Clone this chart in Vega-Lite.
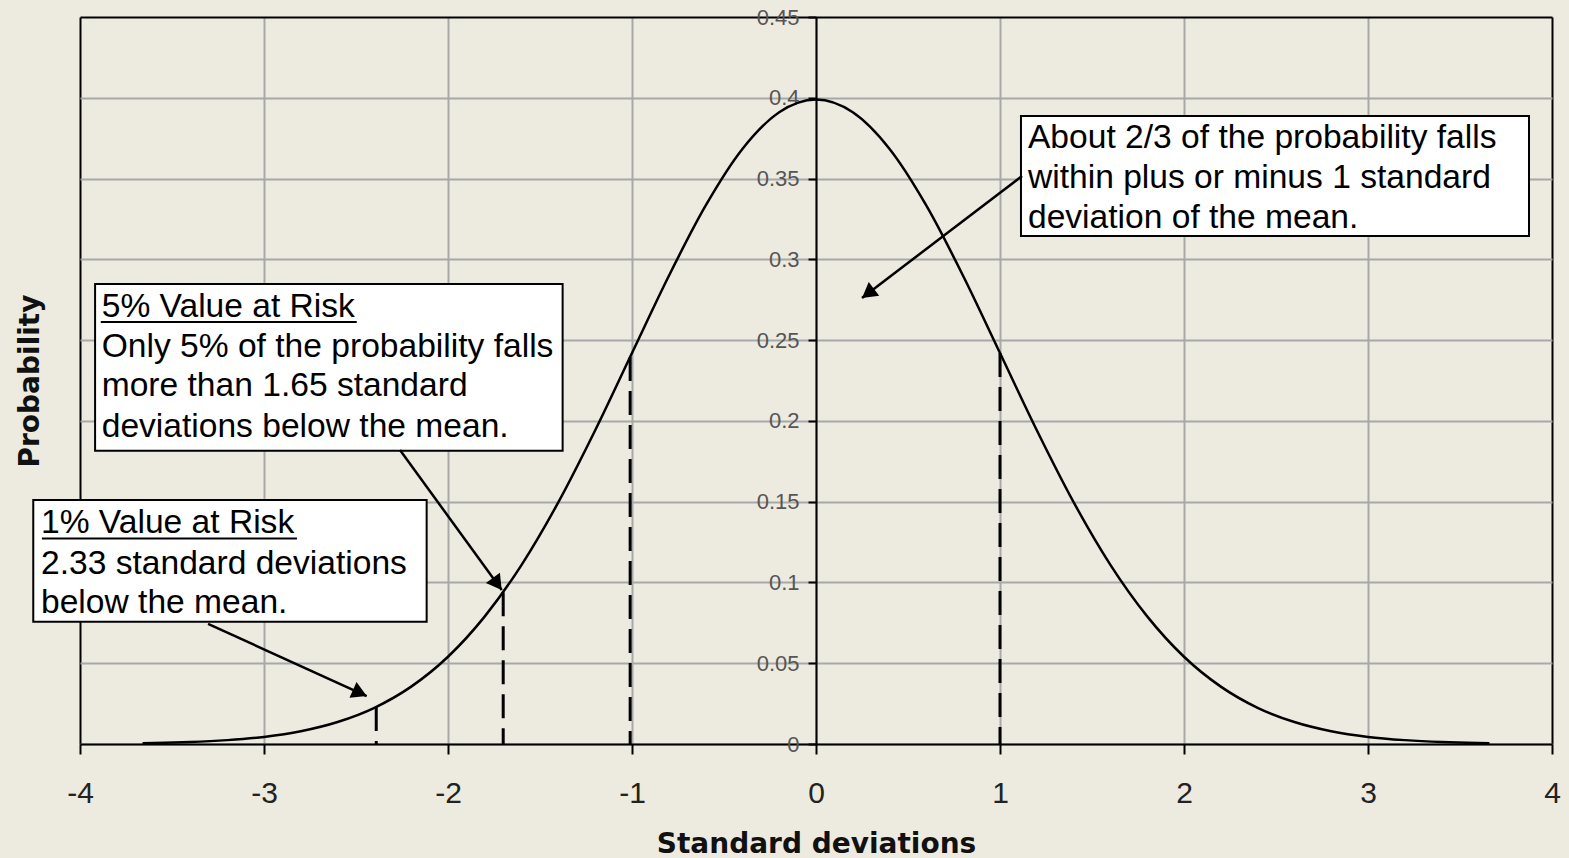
{
  "$schema": "https://vega.github.io/schema/vega-lite/v6.json",
  "width": 1472,
  "height": 727,
  "autosize": {"type": "none"},
  "padding": {"left": 80, "top": 17, "right": 17, "bottom": 114},
  "background": "#edebe0",
  "config": {"view": {"stroke": null, "fill": "#edebe0"}, "font": "Liberation Sans"},
  "datasets": {
    "curve": [
      {"z": -3.66, "p": 0.0005}, {"z": -3.6, "p": 0.0006}, {"z": -3.4, "p": 0.0012}, {"z": -3.2, "p": 0.0024},
      {"z": -3.0, "p": 0.0044}, {"z": -2.8, "p": 0.0079}, {"z": -2.6, "p": 0.0136}, {"z": -2.4, "p": 0.0224},
      {"z": -2.2, "p": 0.0355}, {"z": -2.0, "p": 0.054}, {"z": -1.8, "p": 0.079}, {"z": -1.6, "p": 0.1109},
      {"z": -1.4, "p": 0.1497}, {"z": -1.2, "p": 0.1942}, {"z": -1.0, "p": 0.242}, {"z": -0.8, "p": 0.2897},
      {"z": -0.6, "p": 0.3332}, {"z": -0.4, "p": 0.3683}, {"z": -0.2, "p": 0.391}, {"z": 0.0, "p": 0.3989},
      {"z": 0.2, "p": 0.391}, {"z": 0.4, "p": 0.3683}, {"z": 0.6, "p": 0.3332}, {"z": 0.8, "p": 0.2897},
      {"z": 1.0, "p": 0.242}, {"z": 1.2, "p": 0.1942}, {"z": 1.4, "p": 0.1497}, {"z": 1.6, "p": 0.1109},
      {"z": 1.8, "p": 0.079}, {"z": 2.0, "p": 0.054}, {"z": 2.2, "p": 0.0355}, {"z": 2.4, "p": 0.0224},
      {"z": 2.6, "p": 0.0136}, {"z": 2.8, "p": 0.0079}, {"z": 3.0, "p": 0.0044}, {"z": 3.2, "p": 0.0024},
      {"z": 3.4, "p": 0.0012}, {"z": 3.6, "p": 0.0006}, {"z": 3.66, "p": 0.0005}
    ],
    "cuts": [
      {"z": -2.39, "p": 0.0229}, {"z": -1.7, "p": 0.094}, {"z": -1.01, "p": 0.2396}, {"z": 1.0, "p": 0.242}
    ],
    "boxes": [
      {"x1": 1.114, "x2": 3.875, "y1": 0.3887, "y2": 0.3144},
      {"x1": -3.918, "x2": -1.377, "y1": 0.2847, "y2": 0.1815},
      {"x1": -4.254, "x2": -2.116, "y1": 0.151, "y2": 0.0757}
    ],
    "notes": [
      {"x": 1.152, "y": 0.3689, "t": "About 2/3 of the probability falls"},
      {"x": 1.152, "y": 0.3441, "t": "within plus or minus 1 standard"},
      {"x": 1.152, "y": 0.3194, "t": "deviation of the mean."},
      {"x": -3.882, "y": 0.2646, "t": "5% Value at Risk"},
      {"x": -3.882, "y": 0.2398, "t": "Only 5% of the probability falls"},
      {"x": -3.882, "y": 0.2151, "t": "more than 1.65 standard"},
      {"x": -3.882, "y": 0.1903, "t": "deviations below the mean."},
      {"x": -4.212, "y": 0.1303, "t": "1% Value at Risk"},
      {"x": -4.212, "y": 0.1055, "t": "2.33 standard deviations"},
      {"x": -4.212, "y": 0.0808, "t": "below the mean."}
    ],
    "underlines": [
      {"x1": -3.887, "x2": -2.496, "y": 0.2612},
      {"x1": -4.207, "x2": -2.821, "y": 0.1272}
    ],
    "arrows": [
      {"x1": 1.12, "y1": 0.3516, "x2": 0.25, "y2": 0.2761},
      {"x1": -2.261, "y1": 0.182, "x2": -1.708, "y2": 0.0953},
      {"x1": -3.304, "y1": 0.0743, "x2": -2.442, "y2": 0.0297}
    ]
  },
  "layer": [
    {
      "data": {"name": "curve"},
      "mark": {"type": "line", "color": "#000", "strokeWidth": 2.5, "interpolate": "monotone"},
      "encoding": {
        "x": {
          "field": "z", "type": "quantitative",
          "scale": {"domain": [-4, 4], "nice": false, "zero": false},
          "axis": {
            "values": [-4, -3, -2, -1, 0, 1, 2, 3, 4],
            "labelExpr": "datum.value < 0 ? '-' + abs(datum.value) : '' + datum.value",
            "title": "Standard deviations",
            "grid": true,
            "gridColor": {"condition": {"test": "datum.value === -4 || datum.value === 4", "value": "#000"}, "value": "#a8a8a8"},
            "gridWidth": 2,
            "domainColor": "#000", "domainWidth": 2,
            "tickColor": "#000", "tickWidth": 2, "tickSize": 10,
            "labelFont": "Liberation Sans", "labelFontSize": 30, "labelColor": "#222", "labelPadding": 24,
            "labelFlush": false, "labelOverlap": false,
            "titleFont": "DejaVu Sans", "titleFontSize": 28, "titleFontWeight": "bold", "titleColor": "#111", "titlePadding": 22
          }
        },
        "y": {
          "field": "p", "type": "quantitative",
          "scale": {"domain": [0, 0.45], "nice": false},
          "axis": {
            "orient": "left",
            "values": [0, 0.05, 0.1, 0.15, 0.2, 0.25, 0.3, 0.35, 0.4, 0.45],
            "grid": true,
            "gridColor": {"condition": {"test": "datum.value >= 0.449", "value": "#000"}, "value": "#a8a8a8"},
            "gridWidth": 2,
            "labels": false, "ticks": false, "domain": false,
            "title": "Probability",
            "titleFont": "DejaVu Sans", "titleFontSize": 28, "titleFontWeight": "bold", "titleColor": "#111", "titlePadding": 36
          }
        }
      }
    },
    {
      "data": {"name": "cuts"},
      "mark": {"type": "rule", "color": "#000", "strokeWidth": 3, "strokeDash": [24, 10]},
      "encoding": {
        "x": {"field": "z", "type": "quantitative"},
        "y": {
          "field": "p", "type": "quantitative",
          "axis": {
            "orient": "left", "offset": -736,
            "values": [0, 0.05, 0.1, 0.15, 0.2, 0.25, 0.3, 0.35, 0.4, 0.45],
            "format": "~g",
            "grid": false, "title": null,
            "domainColor": "#000", "domainWidth": 2,
            "tickColor": "#000", "tickWidth": 2, "tickSize": 8,
            "labelFont": "Liberation Sans", "labelFontSize": 22, "labelColor": "#555", "labelPadding": 9
          }
        },
        "y2": {"datum": 0}
      }
    },
    {
      "data": {"name": "boxes"},
      "mark": {"type": "rect", "fill": "#fff", "stroke": "#000", "strokeWidth": 2},
      "encoding": {
        "x": {"field": "x1", "type": "quantitative"},
        "x2": {"field": "x2"},
        "y": {"field": "y1", "type": "quantitative", "axis": null},
        "y2": {"field": "y2"}
      }
    },
    {
      "data": {"name": "underlines"},
      "mark": {"type": "rule", "color": "#000", "strokeWidth": 2},
      "encoding": {
        "x": {"field": "x1", "type": "quantitative"},
        "x2": {"field": "x2"},
        "y": {"field": "y", "type": "quantitative", "axis": null}
      }
    },
    {
      "data": {"name": "notes"},
      "mark": {"type": "text", "align": "left", "baseline": "alphabetic", "font": "Liberation Sans", "fontSize": 33.6, "color": "#000"},
      "encoding": {
        "x": {"field": "x", "type": "quantitative"},
        "y": {"field": "y", "type": "quantitative", "axis": null},
        "text": {"field": "t"}
      }
    },
    {
      "data": {"name": "arrows"},
      "mark": {"type": "rule", "color": "#000", "strokeWidth": 2.5},
      "encoding": {
        "x": {"field": "x1", "type": "quantitative"},
        "x2": {"field": "x2"},
        "y": {"field": "y1", "type": "quantitative", "axis": null},
        "y2": {"field": "y2"}
      }
    },
    {
      "data": {"values": [{"x": 0.2826, "y": 0.2789}]},
      "mark": {"type": "point", "shape": "triangle-up", "filled": true, "color": "#000", "opacity": 1, "size": 300, "angle": 232.7},
      "encoding": {
        "x": {"field": "x", "type": "quantitative"},
        "y": {"field": "y", "type": "quantitative", "axis": null}
      }
    },
    {
      "data": {"values": [{"x": -1.732, "y": 0.0991}]},
      "mark": {"type": "point", "shape": "triangle-up", "filled": true, "color": "#000", "opacity": 1, "size": 300, "angle": 144},
      "encoding": {
        "x": {"field": "x", "type": "quantitative"},
        "y": {"field": "y", "type": "quantitative", "axis": null}
      }
    },
    {
      "data": {"values": [{"x": -2.479, "y": 0.0316}]},
      "mark": {"type": "point", "shape": "triangle-up", "filled": true, "color": "#000", "opacity": 1, "size": 300, "angle": 114},
      "encoding": {
        "x": {"field": "x", "type": "quantitative"},
        "y": {"field": "y", "type": "quantitative", "axis": null}
      }
    }
  ],
  "resolve": {"axis": {"y": "independent"}}
}
